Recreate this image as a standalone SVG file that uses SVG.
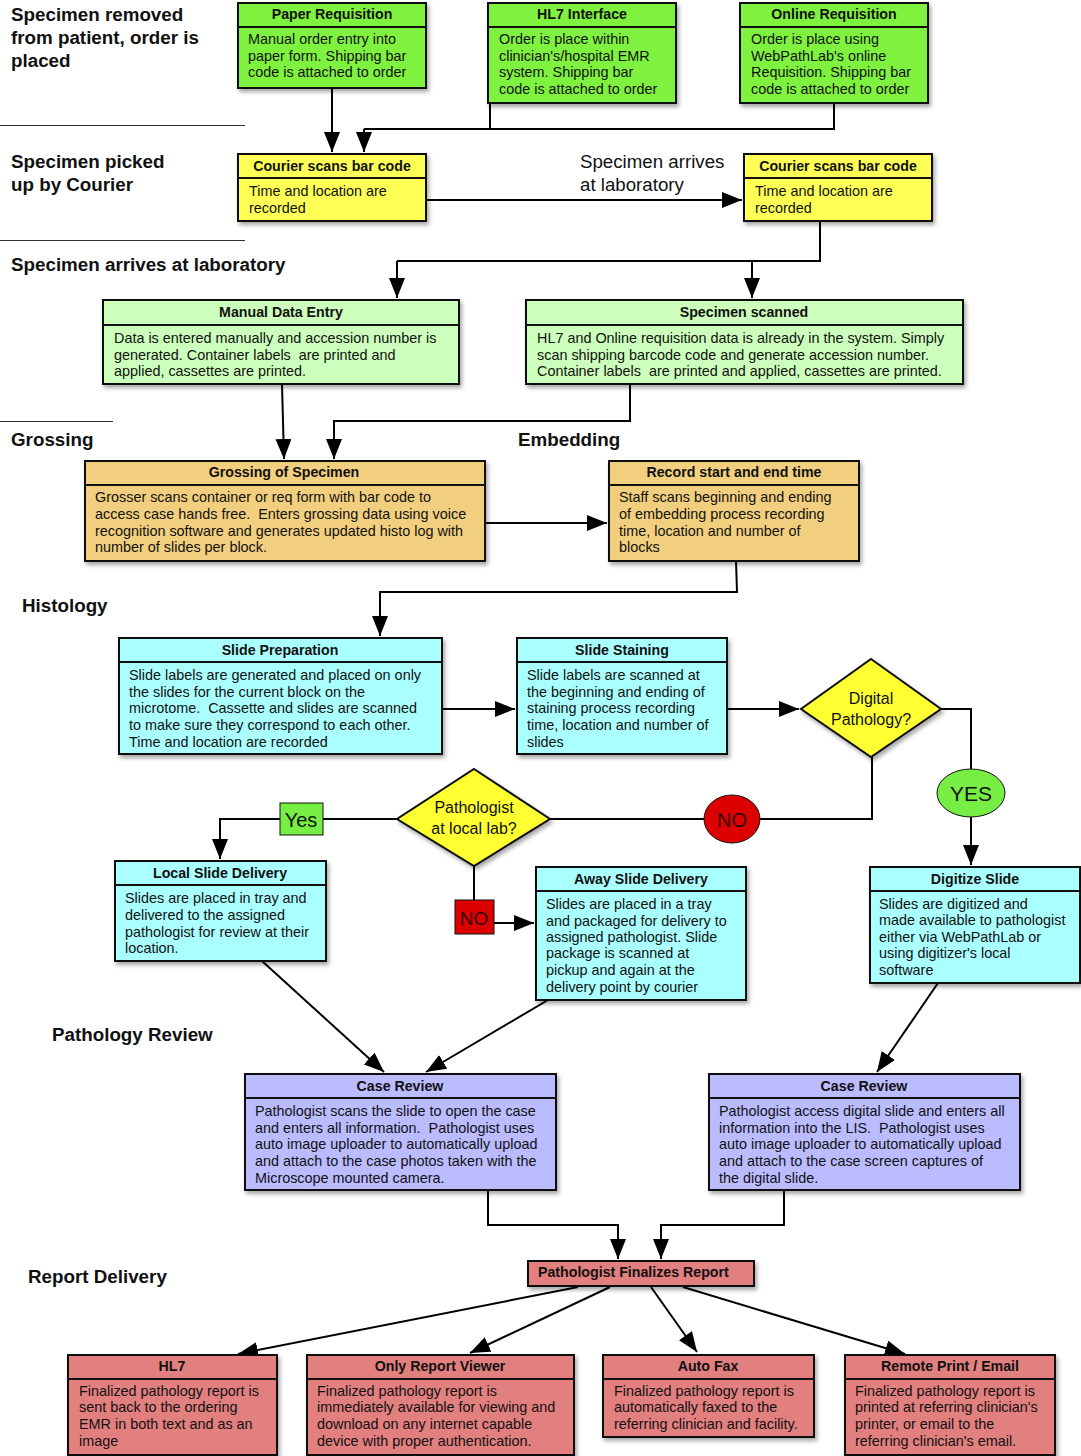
<svg xmlns="http://www.w3.org/2000/svg" width="1081" height="1456" viewBox="0 0 1081 1456">
<defs>
<filter id="sh" x="-10%" y="-10%" width="130%" height="140%">
<feDropShadow dx="2" dy="3" stdDeviation="2" flood-color="#000" flood-opacity="0.35"/>
</filter>
<marker id="ar" markerUnits="userSpaceOnUse" markerWidth="20" markerHeight="16" refX="20" refY="8" orient="auto">
<path d="M0,0 L20,8 L0,16 z" fill="#000"/>
</marker>
</defs>
<style>
.box{stroke:#111;stroke-width:2;filter:url(#sh)}
.sep{stroke:#111;stroke-width:2}
.g1{fill:#7FF23F}.y1{fill:#FFFF55}.lg{fill:#CCFFBB}.or{fill:#F2CF7E}.cy{fill:#AAFFFF}.lv{fill:#BBBBFF}.pk{fill:#E27F7F}
.hd{font-family:"Liberation Sans",Arial,sans-serif;font-size:14.2px;font-weight:bold;text-anchor:middle;fill:#111}
.bd{font-family:"Liberation Sans",Arial,sans-serif;font-size:14.4px;fill:#111;white-space:pre}
.lbl{font-family:"Liberation Sans",Arial,sans-serif;font-size:18.8px;font-weight:bold;fill:#111}
.lbn{font-family:"Liberation Sans",Arial,sans-serif;font-size:18.7px;fill:#111}
.dt{font-family:"Liberation Sans",Arial,sans-serif;font-size:16px;text-anchor:middle;fill:#111}
.big{font-family:"Liberation Sans",Arial,sans-serif;font-size:21px;text-anchor:middle;fill:#111}
.rule{stroke:#333;stroke-width:1}
.cn{fill:none;stroke:#000;stroke-width:2}
.ca{fill:none;stroke:#000;stroke-width:2;marker-end:url(#ar)}
</style>
<rect width="1081" height="1456" fill="#fff"/>

<g id="section-labels">
<text class="lbl"><tspan x="11" y="21">Specimen removed</tspan><tspan x="11" y="44">from patient, order is</tspan><tspan x="11" y="67">placed</tspan></text>
<line class="rule" x1="0" y1="125.5" x2="245" y2="125.5"/>
<text class="lbl"><tspan x="11" y="168">Specimen picked</tspan><tspan x="11" y="191">up by Courier</tspan></text>
<line class="rule" x1="0" y1="240.5" x2="245" y2="240.5"/>
<text class="lbl" x="11" y="271">Specimen arrives at laboratory</text>
<line class="rule" x1="0" y1="421.5" x2="113" y2="421.5"/>
<text class="lbl" x="11" y="446">Grossing</text>
<text class="lbl" x="518" y="446">Embedding</text>
<text class="lbl" x="22" y="612">Histology</text>
<text class="lbl" x="52" y="1041">Pathology Review</text>
<text class="lbl" x="28" y="1283">Report Delivery</text>
<text class="lbn"><tspan x="580" y="168">Specimen arrives</tspan><tspan x="580" y="191">at laboratory</tspan></text>
</g>

<g id="connectors">
<path class="ca" d="M332,88 V152"/>
<path class="cn" d="M490,103 V129 M834,103 V129 H364"/>
<path class="ca" d="M364,129 V152"/>
<path class="ca" d="M426,200 H742"/>
<path class="cn" d="M820,221 V261 H397"/>
<path class="ca" d="M397,261 V298"/>
<path class="ca" d="M752,261 V298"/>
<path class="ca" d="M282,384 L284,459"/>
<path class="ca" d="M630,384 V421 H334 V459"/>
<path class="ca" d="M485,523 H607"/>
<path class="ca" d="M736,561 L737,592 H380 V636"/>
<path class="ca" d="M442,709 H515"/>
<path class="ca" d="M727,709 H799"/>
<path class="cn" d="M941,709 H971 V769"/>
<path class="ca" d="M971,817 V865"/>
<path class="cn" d="M872,757 V819 H550"/>
<path class="ca" d="M397,819 H220 V859"/>
<path class="cn" d="M474,866 V900"/>
<path class="ca" d="M494,923 H534"/>
<path class="ca" d="M262,961 L384,1072"/>
<path class="ca" d="M548,1000 L426,1072"/>
<path class="ca" d="M938,983 L877,1072"/>
<path class="ca" d="M488,1190 V1225 H618 V1259"/>
<path class="ca" d="M784,1190 V1225 H661 V1259"/>
<path class="ca" d="M578,1287 L238,1354"/>
<path class="ca" d="M610,1287 L470,1353"/>
<path class="ca" d="M651,1287 L697,1352"/>
<path class="ca" d="M683,1287 L905,1354"/>
</g>

<g id="paper-requisition">
<rect class="box g1" x="238" y="3" width="188" height="85"/>
<line class="sep" x1="238" y1="27" x2="426" y2="27"/>
<text class="hd" x="332" y="19">Paper Requisition</text>
<text class="bd"><tspan x="248" y="44">Manual order entry into</tspan><tspan x="248" y="61">paper form. Shipping bar</tspan><tspan x="248" y="77">code is attached to order</tspan></text>
</g>

<g id="hl7-interface">
<rect class="box g1" x="488" y="3" width="188" height="100"/>
<line class="sep" x1="488" y1="27" x2="676" y2="27"/>
<text class="hd" x="582" y="19">HL7 Interface</text>
<text class="bd"><tspan x="499" y="44">Order is place within</tspan><tspan x="499" y="61">clinician's/hospital EMR</tspan><tspan x="499" y="77">system. Shipping bar</tspan><tspan x="499" y="94">code is attached to order</tspan></text>
</g>

<g id="online-requisition">
<rect class="box g1" x="740" y="3" width="188" height="100"/>
<line class="sep" x1="740" y1="27" x2="928" y2="27"/>
<text class="hd" x="834" y="19">Online Requisition</text>
<text class="bd"><tspan x="751" y="44">Order is place using</tspan><tspan x="751" y="61">WebPathLab's online</tspan><tspan x="751" y="77">Requisition. Shipping bar</tspan><tspan x="751" y="94">code is attached to order</tspan></text>
</g>

<g id="courier-scan-1">
<rect class="box y1" x="238" y="154" width="188" height="67"/>
<line class="sep" x1="238" y1="178" x2="426" y2="178"/>
<text class="hd" x="332" y="171">Courier scans bar code</text>
<text class="bd"><tspan x="249" y="196">Time and location are</tspan><tspan x="249" y="213">recorded</tspan></text>
</g>

<g id="courier-scan-2">
<rect class="box y1" x="744" y="154" width="188" height="67"/>
<line class="sep" x1="744" y1="178" x2="932" y2="178"/>
<text class="hd" x="838" y="171">Courier scans bar code</text>
<text class="bd"><tspan x="755" y="196">Time and location are</tspan><tspan x="755" y="213">recorded</tspan></text>
</g>

<g id="manual-data-entry">
<rect class="box lg" x="103" y="300" width="356" height="84"/>
<line class="sep" x1="103" y1="325" x2="459" y2="325"/>
<text class="hd" x="281" y="317">Manual Data Entry</text>
<text class="bd"><tspan x="114" y="343">Data is entered manually and accession number is</tspan><tspan x="114" y="360">generated. Container labels  are printed and</tspan><tspan x="114" y="376">applied, cassettes are printed.</tspan></text>
</g>

<g id="specimen-scanned">
<rect class="box lg" x="526" y="300" width="437" height="84"/>
<line class="sep" x1="526" y1="325" x2="963" y2="325"/>
<text class="hd" x="744" y="317">Specimen scanned</text>
<text class="bd"><tspan x="537" y="343">HL7 and Online requisition data is already in the system. Simply</tspan><tspan x="537" y="360">scan shipping barcode code and generate accession number.</tspan><tspan x="537" y="376">Container labels  are printed and applied, cassettes are printed.</tspan></text>
</g>

<g id="grossing">
<rect class="box or" x="85" y="461" width="400" height="100"/>
<line class="sep" x1="85" y1="485" x2="485" y2="485"/>
<text class="hd" x="284" y="477">Grossing of Specimen</text>
<text class="bd"><tspan x="95" y="502">Grosser scans container or req form with bar code to</tspan><tspan x="95" y="519">access case hands free.  Enters grossing data using voice</tspan><tspan x="95" y="536">recognition software and generates updated histo log with</tspan><tspan x="95" y="552">number of slides per block.</tspan></text>
</g>

<g id="embedding-record">
<rect class="box or" x="609" y="461" width="250" height="100"/>
<line class="sep" x1="609" y1="485" x2="859" y2="485"/>
<text class="hd" x="734" y="477">Record start and end time</text>
<text class="bd"><tspan x="619" y="502">Staff scans beginning and ending</tspan><tspan x="619" y="519">of embedding process recording</tspan><tspan x="619" y="536">time, location and number of</tspan><tspan x="619" y="552">blocks</tspan></text>
</g>

<g id="slide-preparation">
<rect class="box cy" x="119" y="638" width="323" height="116"/>
<line class="sep" x1="119" y1="662" x2="442" y2="662"/>
<text class="hd" x="280" y="655">Slide Preparation</text>
<text class="bd"><tspan x="129" y="680">Slide labels are generated and placed on only</tspan><tspan x="129" y="697">the slides for the current block on the</tspan><tspan x="129" y="713">microtome.  Cassette and slides are scanned</tspan><tspan x="129" y="730">to make sure they correspond to each other.</tspan><tspan x="129" y="747">Time and location are recorded</tspan></text>
</g>

<g id="slide-staining">
<rect class="box cy" x="517" y="638" width="210" height="116"/>
<line class="sep" x1="517" y1="662" x2="727" y2="662"/>
<text class="hd" x="622" y="655">Slide Staining</text>
<text class="bd"><tspan x="527" y="680">Slide labels are scanned at</tspan><tspan x="527" y="697">the beginning and ending of</tspan><tspan x="527" y="713">staining process recording</tspan><tspan x="527" y="730">time, location and number of</tspan><tspan x="527" y="747">slides</tspan></text>
</g>

<g id="digital-pathology">
<polygon class="box" fill="#FFFF33" points="871,659 941,709 871,757 801,709"/>
<text class="dt"><tspan x="871" y="704">Digital</tspan><tspan x="871" y="725">Pathology?</tspan></text>
</g>

<g id="yes-digital">
<ellipse cx="971" cy="793" rx="34" ry="24" fill="#77EE44" stroke="#111" stroke-width="1"/>
<text class="big" x="971" y="801">YES</text>
</g>

<g id="pathologist-local">
<polygon class="box" fill="#FFFF33" points="474,769 550,819 474,866 397,819"/>
<text class="dt"><tspan x="474" y="813">Pathologist</tspan><tspan x="474" y="834">at local lab?</tspan></text>
</g>

<g id="no-digital">
<ellipse cx="732" cy="819" rx="28" ry="24" fill="#DD0000" stroke="#111" stroke-width="1"/>
<text class="big" x="732" y="827" style="font-size:20px;fill:#300">NO</text>
</g>

<g id="yes-local">
<rect x="280" y="803" width="43" height="32" fill="#77EE44" stroke="#111" stroke-width="1"/>
<text class="big" x="301" y="827" style="font-size:20px">Yes</text>
</g>

<g id="no-local">
<rect x="455" y="900" width="39" height="34" fill="#DD0000" stroke="#111" stroke-width="1"/>
<text class="big" x="474" y="925" style="font-size:19px;fill:#300">NO</text>
</g>

<g id="local-slide-delivery">
<rect class="box cy" x="115" y="861" width="211" height="100"/>
<line class="sep" x1="115" y1="885" x2="326" y2="885"/>
<text class="hd" x="220" y="878">Local Slide Delivery</text>
<text class="bd"><tspan x="125" y="903">Slides are placed in tray and</tspan><tspan x="125" y="920">delivered to the assigned</tspan><tspan x="125" y="937">pathologist for review at their</tspan><tspan x="125" y="953">location.</tspan></text>
</g>

<g id="away-slide-delivery">
<rect class="box cy" x="536" y="867" width="210" height="133"/>
<line class="sep" x1="536" y1="891" x2="746" y2="891"/>
<text class="hd" x="641" y="884">Away Slide Delivery</text>
<text class="bd"><tspan x="546" y="909">Slides are placed in a tray</tspan><tspan x="546" y="926">and packaged for delivery to</tspan><tspan x="546" y="942">assigned pathologist. Slide</tspan><tspan x="546" y="958">package is scanned at</tspan><tspan x="546" y="975">pickup and again at the</tspan><tspan x="546" y="992">delivery point by courier</tspan></text>
</g>

<g id="digitize-slide">
<rect class="box cy" x="870" y="867" width="210" height="116"/>
<line class="sep" x1="870" y1="891" x2="1080" y2="891"/>
<text class="hd" x="975" y="884">Digitize Slide</text>
<text class="bd"><tspan x="879" y="909">Slides are digitized and</tspan><tspan x="879" y="925">made available to pathologist</tspan><tspan x="879" y="942">either via WebPathLab or</tspan><tspan x="879" y="958">using digitizer's local</tspan><tspan x="879" y="975">software</tspan></text>
</g>

<g id="case-review-1">
<rect class="box lv" x="245" y="1074" width="311" height="116"/>
<line class="sep" x1="245" y1="1098" x2="556" y2="1098"/>
<text class="hd" x="400" y="1091">Case Review</text>
<text class="bd"><tspan x="255" y="1116">Pathologist scans the slide to open the case</tspan><tspan x="255" y="1133">and enters all information.  Pathologist uses</tspan><tspan x="255" y="1149">auto image uploader to automatically upload</tspan><tspan x="255" y="1166">and attach to the case photos taken with the</tspan><tspan x="255" y="1183">Microscope mounted camera.</tspan></text>
</g>

<g id="case-review-2">
<rect class="box lv" x="709" y="1074" width="311" height="116"/>
<line class="sep" x1="709" y1="1098" x2="1020" y2="1098"/>
<text class="hd" x="864" y="1091">Case Review</text>
<text class="bd"><tspan x="719" y="1116">Pathologist access digital slide and enters all</tspan><tspan x="719" y="1133">information into the LIS.  Pathologist uses</tspan><tspan x="719" y="1149">auto image uploader to automatically upload</tspan><tspan x="719" y="1166">and attach to the case screen captures of</tspan><tspan x="719" y="1183">the digital slide.</tspan></text>
</g>

<g id="finalize-report">
<rect class="box pk" x="528" y="1261" width="226" height="25"/>
<text class="hd" x="538" y="1277" style="text-anchor:start">Pathologist Finalizes Report</text>
</g>

<g id="hl7-delivery">
<rect class="box pk" x="68" y="1355" width="209" height="100"/>
<line class="sep" x1="68" y1="1379" x2="277" y2="1379"/>
<text class="hd" x="172" y="1371">HL7</text>
<text class="bd"><tspan x="79" y="1396">Finalized pathology report is</tspan><tspan x="79" y="1412">sent back to the ordering</tspan><tspan x="79" y="1429">EMR in both text and as an</tspan><tspan x="79" y="1446">image</tspan></text>
</g>

<g id="report-viewer">
<rect class="box pk" x="307" y="1355" width="267" height="100"/>
<line class="sep" x1="307" y1="1379" x2="574" y2="1379"/>
<text class="hd" x="440" y="1371">Only Report Viewer</text>
<text class="bd"><tspan x="317" y="1396">Finalized pathology report is</tspan><tspan x="317" y="1412">immediately available for viewing and</tspan><tspan x="317" y="1429">download on any internet capable</tspan><tspan x="317" y="1446">device with proper authentication.</tspan></text>
</g>

<g id="auto-fax">
<rect class="box pk" x="603" y="1355" width="211" height="82"/>
<line class="sep" x1="603" y1="1379" x2="814" y2="1379"/>
<text class="hd" x="708" y="1371">Auto Fax</text>
<text class="bd"><tspan x="614" y="1396">Finalized pathology report is</tspan><tspan x="614" y="1412">automatically faxed to the</tspan><tspan x="614" y="1429">referring clinician and facility.</tspan></text>
</g>

<g id="remote-print">
<rect class="box pk" x="845" y="1355" width="210" height="100"/>
<line class="sep" x1="845" y1="1379" x2="1055" y2="1379"/>
<text class="hd" x="950" y="1371">Remote Print / Email</text>
<text class="bd"><tspan x="855" y="1396">Finalized pathology report is</tspan><tspan x="855" y="1412">printed at referring clinician's</tspan><tspan x="855" y="1429">printer, or email to the</tspan><tspan x="855" y="1446">referring clinician's email.</tspan></text>
</g>
</svg>
